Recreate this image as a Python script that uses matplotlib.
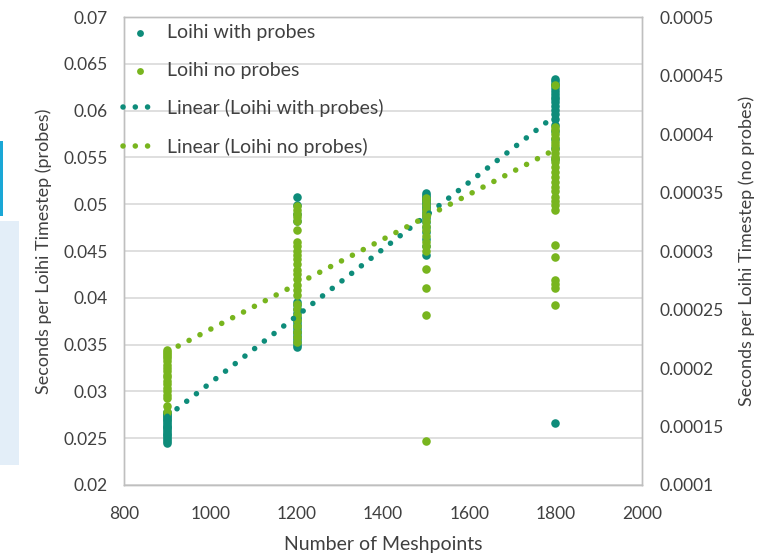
import matplotlib
matplotlib.use("Agg")
import matplotlib.pyplot as plt
from matplotlib.patches import Rectangle
from matplotlib.ticker import MultipleLocator, FuncFormatter

plt.rcParams['font.family'] = ['Lato', 'DejaVu Sans']

# meshpoints per group
mesh = [900, 1200, 1500, 1800]

# Loihi with probes (left axis, seconds per timestep)
probes = {
    900: [0.0245, 0.0247, 0.0249, 0.0251, 0.0253, 0.0255, 0.0257, 0.0259, 0.0261, 0.0262,
          0.0263, 0.0265, 0.0267, 0.0269, 0.0271, 0.0273, 0.0274, 0.0276, 0.0277, 0.0278],
    1200: [0.0348, 0.0350, 0.0353, 0.0356, 0.0359, 0.0362, 0.0365, 0.0368, 0.0371, 0.0374,
           0.0377, 0.0380, 0.0384, 0.0388, 0.0392, 0.0396, 0.0482, 0.0490, 0.0499, 0.0508],
    1500: [0.0446, 0.0455, 0.0463, 0.0470, 0.0476, 0.0481, 0.0485, 0.0489, 0.0492, 0.0495,
           0.0497, 0.0499, 0.0501, 0.0503, 0.0505, 0.0506, 0.0507, 0.0508, 0.0510, 0.0512],
    1800: [0.0548, 0.0560, 0.0570, 0.0578, 0.0585, 0.0591, 0.0596, 0.0601, 0.0605, 0.0609,
           0.0612, 0.0615, 0.0618, 0.0621, 0.0624, 0.0627, 0.0629, 0.0632, 0.0634, 0.0266],
}

# Loihi no probes (right axis)
no_probes = {
    900: [0.0001624, 0.0001672, 0.0001744, 0.0001768, 0.00018, 0.0001832, 0.0001864, 0.0001888,
          0.000192, 0.0001944, 0.0001976, 0.0002, 0.0002024, 0.0002064, 0.0002088, 0.0002104,
          0.000212, 0.0002136, 0.0002152],
    1200: [0.0003384, 0.0003352, 0.000332, 0.0003288, 0.0003256, 0.0003184, 0.000308, 0.000304,
           0.0003, 0.0002968, 0.0002928, 0.0002888, 0.000284, 0.00028, 0.000276, 0.0002712,
           0.0002664, 0.0002624, 0.0002544, 0.0002504, 0.0002456, 0.0002408, 0.000236,
           0.0002312, 0.0002264, 0.0002224],
    1500: [0.0003456, 0.0003424, 0.0003392, 0.000336, 0.0003328, 0.0003296, 0.0003256, 0.0003216,
           0.0003176, 0.0003128, 0.000308, 0.000304, 0.0003, 0.0002848, 0.0002688, 0.0002456,
           0.0001376],
    1800: [0.0004416, 0.0004064, 0.0004032, 0.0004, 0.0003968, 0.0003936, 0.0003904, 0.0003872,
           0.000384, 0.0003808, 0.0003784, 0.000376, 0.000372, 0.000368, 0.0003632, 0.0003592,
           0.0003552, 0.0003512, 0.0003464, 0.0003424, 0.0003392, 0.0003352, 0.0003056,
           0.0002952, 0.0002752, 0.000272, 0.0002688, 0.0002536],
}

# linear trendline ends
trend_x = [900, 1800]
trend_probes = [0.02734, 0.05951]
trend_no_probes = [0.0002139, 0.000387]

teal = '#0E8C7A'
green = '#78B51E'
grid_c = '#D9D9D9'
frame_c = '#BFBFBF'
txt = '#404040'

fig = plt.figure(figsize=(7.76, 5.53), dpi=100)
ax = fig.add_axes([0.160, 0.123, 0.667, 0.846])
ax2 = ax.twinx()

# screenshot edge strips on the left
fig.patches.append(Rectangle((0, 0.16), 0.025, 0.44, transform=fig.transFigure,
                             facecolor='#E3EEF8', edgecolor='none', zorder=0))
fig.patches.append(Rectangle((0, 0.61), 0.004, 0.135, transform=fig.transFigure,
                             facecolor='#1AA7D6', edgecolor='none', zorder=0))

px, py = [], []
for m in mesh:
    px += [m] * len(probes[m])
    py += probes[m]
nx, ny = [], []
for m in mesh:
    nx += [m] * len(no_probes[m])
    ny += no_probes[m]

ax.scatter(px, py, s=38, color=teal, zorder=3, linewidths=0, label='Loihi with probes')
ax2.scatter(nx, ny, s=38, color=green, zorder=3, linewidths=0, label='Loihi no probes')

dots = (0, (0.01, 2.2))
l1, = ax2.plot(trend_x, [0.0001 + (v - 0.02) * 0.008 for v in trend_probes], color=teal,
               lw=4.0, linestyle=dots, dash_capstyle='round', zorder=5,
               label='Linear (Loihi with probes)')
l2, = ax2.plot(trend_x, trend_no_probes, color=green, lw=4.0, linestyle=dots,
               dash_capstyle='round', zorder=5, label='Linear (Loihi no probes)')

ax.set_xlim(800, 2000)
ax.set_ylim(0.02, 0.07)
ax2.set_ylim(0.0001, 0.0005)
ax.xaxis.set_major_locator(MultipleLocator(200))
ax.yaxis.set_major_locator(MultipleLocator(0.005))
ax2.yaxis.set_major_locator(MultipleLocator(0.00005))
ax.yaxis.set_major_formatter(FuncFormatter(lambda v, p: '%g' % round(v, 6)))
ax2.yaxis.set_major_formatter(FuncFormatter(lambda v, p: '%g' % round(v, 7)))

ax.grid(axis='y', color=grid_c, lw=1.2)
ax.set_axisbelow(True)
for a in (ax, ax2):
    for s in a.spines.values():
        s.set_color(frame_c)
        s.set_linewidth(1)
    a.tick_params(length=0, labelsize=12.5, colors=txt)
ax.tick_params(axis='x', pad=15)
ax.tick_params(axis='y', pad=12)
ax2.tick_params(axis='y', pad=13)

ax.set_xlabel('Number of Meshpoints', fontsize=14, color=txt, labelpad=10)
ax.set_ylabel('Seconds per Loihi Timestep (probes)', fontsize=13, color=txt, labelpad=8)
ax2.set_ylabel('Seconds per Loihi Timestep (no probes)', fontsize=13, color=txt, labelpad=10)

h1, lab1 = ax.get_legend_handles_labels()
h2, lab2 = ax2.get_legend_handles_labels()
leg = ax2.legend(h1 + [h2[0], l1, l2], lab1 + [lab2[0], 'Linear (Loihi with probes)', 'Linear (Loihi no probes)'],
                 loc='upper left', bbox_to_anchor=(-0.037, 1.022), frameon=False, fontsize=14,
                 labelspacing=1.05, handlelength=1.8, handletextpad=0.5, markerscale=0.8)
for t in leg.get_texts():
    t.set_color(txt)

fig.savefig('out.png', dpi=100)
